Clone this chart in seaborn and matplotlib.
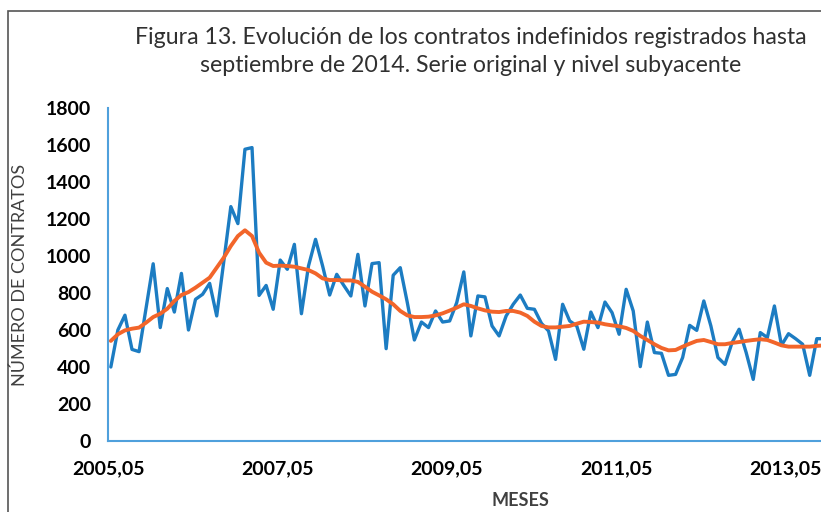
import matplotlib
matplotlib.use('Agg')
import pandas as pd
import seaborn as sns
import matplotlib.pyplot as plt
import numpy as np
from matplotlib.patches import Rectangle

# Monthly series, starting 2005.05
original = [400, 600, 680, 495, 483, 720, 958, 613, 824, 697, 906, 600,
            766, 793, 852, 676, 970, 1267, 1175, 1577, 1586, 787, 841, 712,
            978, 928, 1063, 688, 946, 1090, 946, 789, 901, 841, 784, 1009,
            730, 959, 964, 499, 896, 937, 748, 546, 643, 613, 703, 643,
            649, 748, 914, 568, 784, 779, 622, 568, 676, 739, 789, 717,
            712, 636, 595, 441, 739, 649, 622, 496, 697, 613, 751, 694,
            577, 820, 703, 402, 643, 478, 474, 355, 360, 451, 625, 598,
            757, 622, 451, 414, 532, 604, 478, 333, 586, 559, 730, 517,
            580, 553, 523, 355, 553, 553]
trend = [541, 577, 598, 607, 613, 640, 670, 688, 715, 757, 789, 805,
         829, 856, 883, 937, 991, 1054, 1108, 1139, 1108, 1018, 964, 946,
         948, 946, 942, 933, 924, 906, 879, 870, 870, 868, 868, 860,
         834, 807, 787, 766, 739, 703, 679, 670, 670, 672, 679, 690,
         705, 721, 739, 730, 717, 706, 699, 697, 703, 703, 694, 676,
         645, 622, 614, 614, 618, 622, 634, 645, 643, 640, 631, 625,
         620, 611, 595, 568, 546, 523, 503, 490, 492, 510, 526, 541,
         546, 535, 523, 523, 530, 535, 541, 546, 550, 546, 532, 517,
         510, 510, 510, 510, 514, 517]
tick_labels = ["2005,05", "2007,05", "2009,05", "2011,05", "2013,05"]

df = pd.DataFrame({
    "mes": np.arange(len(original)) + 0.4,
    "original": original,
    "subyacente": trend,
})

sns.set_style("white")
plt.rcParams['font.family'] = ['Lato', 'DejaVu Sans']

fig = plt.figure(figsize=(8.21, 5.12), dpi=100)
W, H = 821, 512
ax = fig.add_axes([108 / W, (H - 441) / H, (W - 108) / W, 333 / H])

sns.lineplot(data=df, x="mes", y="original", ax=ax, color="#1C7CC2", linewidth=2.4)
sns.lineplot(data=df, x="mes", y="subyacente", ax=ax, color="#F2652A", linewidth=2.8)

axis_col = "#4FA0DC"
ax.set_xlim(0, 101.0)
ax.set_ylim(0, 1800)
ax.set_yticks(range(0, 1801, 200))
ax.set_xticks(range(0, 101, 12))
# label every other yearly tick
ax.set_xticklabels([tick_labels[j // 2] if j % 2 == 0 else "" for j in range(9)])
ax.tick_params(axis="both", colors=axis_col, direction="out", length=6, width=1.2,
               labelcolor="black", labelsize=14)
ax.tick_params(axis="y", pad=6)
ax.tick_params(axis="x", pad=8)
for lab in ax.get_xticklabels() + ax.get_yticklabels():
    lab.set_fontweight("bold")
for s in ["top", "right"]:
    ax.spines[s].set_visible(False)
for s in ["left", "bottom"]:
    ax.spines[s].set_color(axis_col)
    ax.spines[s].set_linewidth(1.5)
ax.set_xlabel("")
ax.set_ylabel("")
ax.set_facecolor("white")

fig.text(20 / W, 1 - 275 / H, "NÚMERO DE CONTRATOS", rotation=90, ha="center", va="center",
         fontsize=13, color="#404040")
fig.text(520 / W, 1 - 500 / H, "MESES", ha="center", va="center",
         fontsize=13, fontweight="bold", color="#404040")
fig.text(471 / W, 1 - 37 / H, "Figura 13. Evolución de los contratos indefinidos registrados hasta",
         ha="center", va="center", fontsize=16.7, color="#303030")
fig.text(471 / W, 1 - 65 / H, "septiembre de 2014. Serie original y nivel subyacente",
         ha="center", va="center", fontsize=16.7, color="#303030")

# outer frame of the original figure (cut off on the right and bottom)
fig.patches.append(Rectangle((8 / W, -0.05), 1.1, 1 - 11 / H + 0.05, transform=fig.transFigure,
                             fill=False, edgecolor="#555555", linewidth=1.2))

fig.savefig("out.png", dpi=100)
